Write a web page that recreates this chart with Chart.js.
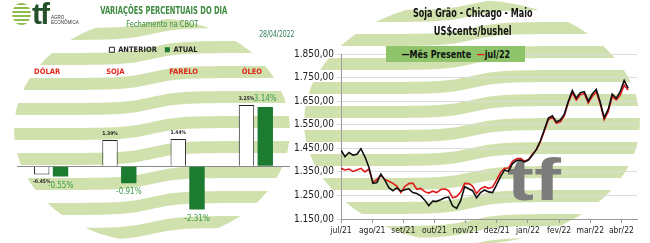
<!DOCTYPE html>
<html>
<head>
<meta charset="utf-8">
<script src="https://cdn.jsdelivr.net/npm/chart.js@4.4.0/dist/chart.umd.min.js"></script>
<style>
body { margin: 0; background: #fff; width: 650px; height: 243px; overflow: hidden; position: relative;
       font-family: "DejaVu Sans Condensed", "Liberation Sans", sans-serif; }
.panel { position: absolute; top: 0; height: 243px; }
#left { left: 0; width: 290px; }
#right { left: 290px; width: 360px; }
.txt { position: absolute; white-space: nowrap; }
.sq { display: inline-block; transform-origin: center; }
</style>
</head>
<body>
<div class="panel" id="left"><canvas id="barChart" width="290" height="243"></canvas></div>
<div class="panel" id="right"><canvas id="lineChart" width="360" height="243"></canvas></div>

<!-- left header -->
<div class="txt" style="left:12px;top:3px;width:19px;height:22px;border-radius:50%;background:repeating-linear-gradient(to bottom,#8fbc4c 0 2px,#fff 2px 4px);"></div>
<div class="txt" style="left:32px;top:-3px;font:bold 30px 'Liberation Sans',sans-serif;color:#24502a;letter-spacing:-2px;">tf</div>
<div class="txt" style="left:51px;top:16px;font:4.5px 'Liberation Sans',sans-serif;line-height:4.6px;color:#333;">AGRO<br>ECONÔMICA</div>
<div class="txt" style="left:64px;width:200px;top:5px;text-align:center;font-weight:bold;font-size:10px;color:#3b8a3e;"><span class="sq" style="transform:scaleX(0.75)">VARIAÇÕES PERCENTUAIS DO DIA</span></div>
<div class="txt" style="left:100px;width:125px;top:19px;text-align:center;font-size:8.5px;color:#3b8a3e;"><span class="sq" style="transform:scaleX(0.87)">Fechamento na CBOT</span></div>
<div class="txt" style="left:250px;width:44px;top:30px;text-align:right;font-size:8px;color:#2f7a54;"><span class="sq" style="transform:scaleX(0.85);transform-origin:right">28/04/2022</span></div>

<!-- right header -->
<div class="txt" style="left:373px;width:200px;top:6px;text-align:center;font-weight:bold;font-size:11.5px;color:#111;"><span class="sq" style="transform:scaleX(0.78)">Soja Grão - Chicago - Maio</span></div>
<div class="txt" style="left:373px;width:200px;top:24px;text-align:center;font-weight:bold;font-size:11.5px;color:#111;"><span class="sq" style="transform:scaleX(0.8)">US$cents/bushel</span></div>
<div class="txt" style="left:386px;top:46px;width:139px;height:16px;background:#8fc46a;text-align:center;line-height:16px;font-weight:bold;font-size:10.5px;color:#111;">
  <span class="sq" style="transform:scaleX(0.85)"><span style="color:#111">—</span>Mês Presente&nbsp;&nbsp;<span style="color:#e0191b">—</span>jul/22</span>
</div>

<script>
// ---- left chart data ----
const categories = ['DÓLAR', 'SOJA', 'FARELO', 'ÓLEO'];
const anterior = [-0.45, 1.39, 1.44, 3.25];
const atual = [-0.55, -0.91, -2.31, 3.14];

// ---- right chart data (one value every ~2-3 trading days, jul/21 -> abr/22) ----
const monthTicks = ['jul/21', 'ago/21', 'set/21', 'out/21', 'nov/21', 'dez/21', 'jan/22', 'fev/22', 'mar/22', 'abr/22'];
const monthsPerSample = 0.128;
const mesPresente = [
  1442, 1414, 1432, 1421, 1425, 1448, 1414, 1370, 1301, 1305,
  1340, 1315, 1283, 1270, 1282, 1268, 1274, 1278, 1262, 1258,
  1248, 1230, 1206, 1226, 1225, 1232, 1240, 1243, 1205, 1195,
  1228, 1287, 1278, 1270, 1240, 1262, 1273, 1265, 1262, 1295,
  1330, 1358, 1352, 1385, 1398, 1400, 1392, 1400, 1421, 1445,
  1482, 1530, 1578, 1588, 1562, 1570, 1595, 1650, 1695, 1662,
  1686, 1690, 1650, 1680, 1700, 1645, 1580, 1615, 1680, 1662,
  1690, 1738, 1705
];
const jul22 = [
  1365, 1358, 1362, 1352, 1358, 1365, 1350, 1362, 1305, 1318,
  1335, 1318, 1310, 1301, 1290, 1262, 1288, 1300, 1302, 1276,
  1280, 1266, 1260, 1268, 1262, 1275, 1278, 1270, 1240, 1245,
  1264, 1301, 1300, 1290, 1258, 1278, 1287, 1280, 1285, 1315,
  1347, 1365, 1366, 1395, 1405, 1407, 1395, 1402, 1425, 1445,
  1478, 1524, 1572, 1582, 1556, 1562, 1588, 1645, 1685, 1655,
  1677, 1682, 1642, 1670, 1690, 1638, 1572, 1605, 1670, 1655,
  1675, 1718, 1697
];

const FONT = '"DejaVu Sans Condensed", "Liberation Sans", sans-serif';
const GREEN = '#1c7a31';

// background watermark stripes (decoration)
function drawStripes(ctx, cx, cy, rx, ry, period, band, shift, firstY) {
    ctx.save();
    ctx.beginPath();
    ctx.ellipse(cx, cy, rx, ry, 0, 0, Math.PI * 2);
    ctx.clip();
    ctx.fillStyle = '#d0e1ad';
    var wave = function(x) { return -shift / (1 + Math.exp(-(x - cx) / 14)); };
    for (var y0 = firstY; y0 < cy + ry + period; y0 += period) {
        ctx.beginPath();
        for (var x = cx - rx; x <= cx + rx; x += 3) ctx.lineTo(x, y0 + wave(x));
        for (var x2 = cx + rx; x2 >= cx - rx; x2 -= 3) ctx.lineTo(x2, y0 + band + wave(x2));
        ctx.closePath();
        ctx.fill();
    }
    ctx.restore();
}

// bar chart
new Chart(document.getElementById('barChart'), {
    type: 'bar',
    data: {
        labels: categories,
        datasets: [{
            label: 'ANTERIOR',
            data: anterior,
            backgroundColor: '#ffffff',
            borderColor: '#222222',
            borderWidth: 1,
            categoryPercentage: 0.55,
            barPercentage: 0.82
        }, {
            label: 'ATUAL',
            data: atual,
            backgroundColor: GREEN,
            borderColor: GREEN,
            borderWidth: 0,
            categoryPercentage: 0.55,
            barPercentage: 0.82
        }]
    },
    options: {
        responsive: false,
        animation: false,
        layout: { padding: { top: 38, left: 17, right: 0, bottom: 11 } },
        plugins: {
            legend: {
                display: true,
                labels: { font: { family: FONT, size: 7.5, weight: 'bold' }, color: '#222', boxWidth: 5, boxHeight: 5, padding: 8 }
            },
            tooltip: { enabled: false }
        },
        scales: {
            x: {
                position: 'top',
                grid: { display: false, drawTicks: false },
                border: { display: false },
                afterFit: function(s) { s.height = 18; },
                ticks: { color: '#e2231a', font: { family: FONT, size: 7.5, weight: 'bold' }, padding: 5, labelOffset: -4 }
            },
            y: {
                min: -3.5,
                max: 4.5,
                afterFit: function(s) { s.width = 0; },
                ticks: { display: false, stepSize: 0.5 },
                border: { display: false },
                grid: {
                    drawTicks: false,
                    color: function(ctx) { return ctx.tick && ctx.tick.value === 0 ? '#8a8a8a' : 'rgba(0,0,0,0)'; }
                }
            }
        }
    },
    plugins: [{
        id: 'stripesLeft',
        beforeDraw: function(chart) { drawStripes(chart.ctx, 152, 130, 138, 112, 25, 12, 12, 3); }
    }, {
        id: 'barValues',
        afterDatasetsDraw: function(chart) {
            var ctx = chart.ctx;
            ctx.save();
            ctx.textAlign = 'center';
            chart.data.datasets.forEach(function(ds, di) {
                chart.getDatasetMeta(di).data.forEach(function(bar, i) {
                    var v = ds.data[i];
                    var txt = v.toFixed(2) + '%';
                    if (di === 0) {
                        ctx.font = 'bold 5px ' + FONT;
                        ctx.fillStyle = '#222';
                    } else {
                        ctx.font = '8px ' + FONT;
                        ctx.fillStyle = '#3a9a48';
                    }
                    if (v >= 0) {
                        ctx.textBaseline = 'bottom';
                        ctx.fillText(txt, bar.x, bar.y - 4);
                    } else {
                        ctx.textBaseline = 'top';
                        ctx.fillText(txt, bar.x, bar.y + 5);
                    }
                });
            });
            ctx.restore();
        }
    }]
});

// line chart
function brNumber(v) {
    var parts = v.toFixed(2).split('.');
    return parts[0].replace(/\B(?=(\d{3})+(?!\d))/g, '.') + ',' + parts[1];
}
function toPoints(arr) {
    return arr.map(function(v, i) { return { x: i * monthsPerSample, y: v }; });
}

new Chart(document.getElementById('lineChart'), {
    type: 'line',
    data: {
        datasets: [{
            label: 'Mês Presente',
            data: toPoints(mesPresente),
            borderColor: '#111111',
            borderWidth: 1.6,
            pointRadius: 0,
            tension: 0
        }, {
            label: 'jul/22',
            data: toPoints(jul22),
            borderColor: '#e0191b',
            borderWidth: 1.6,
            pointRadius: 0,
            tension: 0
        }]
    },
    options: {
        responsive: false,
        animation: false,
        layout: { padding: { top: 54, right: 13, left: 5, bottom: 0 } },
        plugins: { legend: { display: false }, tooltip: { enabled: false } },
        scales: {
            x: {
                type: 'linear',
                min: 0,
                max: 9.5,
                afterFit: function(s) { s.height = 24; },
                grid: { drawOnChartArea: false, tickLength: 4, color: '#9a9a9a' },
                border: { color: '#9a9a9a' },
                ticks: {
                    stepSize: 1,
                    autoSkip: false,
                    maxRotation: 0,
                    includeBounds: false,
                    padding: 3,
                    color: '#222',
                    font: { family: FONT, size: 8.5 },
                    callback: function(v) { return Number.isInteger(v) && monthTicks[v] ? monthTicks[v] : ''; }
                }
            },
            y: {
                min: 1150,
                max: 1850,
                afterFit: function(s) { s.width = 46; },
                grid: { color: '#dcdcdc', tickLength: 4 },
                border: { color: '#9a9a9a' },
                ticks: {
                    stepSize: 100,
                    padding: 3,
                    color: '#222',
                    font: { family: FONT, size: 10 },
                    callback: function(v) { return brNumber(v); }
                }
            }
        }
    },
    plugins: [{
        id: 'stripesRight',
        beforeDraw: function(chart) { drawStripes(chart.ctx, 182, 122, 168, 122, 24, 12, 12, 10); }
    }, {
        id: 'tfMark',
        beforeDatasetsDraw: function(chart) {
            var ctx = chart.ctx;
            ctx.save();
            ctx.translate(217, 200);
            ctx.scale(1.35, 1);
            ctx.font = 'bold 60px "Liberation Sans", sans-serif';
            ctx.fillStyle = '#7c7c7c';
            ctx.textBaseline = 'alphabetic';
            ctx.fillText('tf', 0, 0);
            ctx.restore();
        }
    }]
});
</script>
</body>
</html>
